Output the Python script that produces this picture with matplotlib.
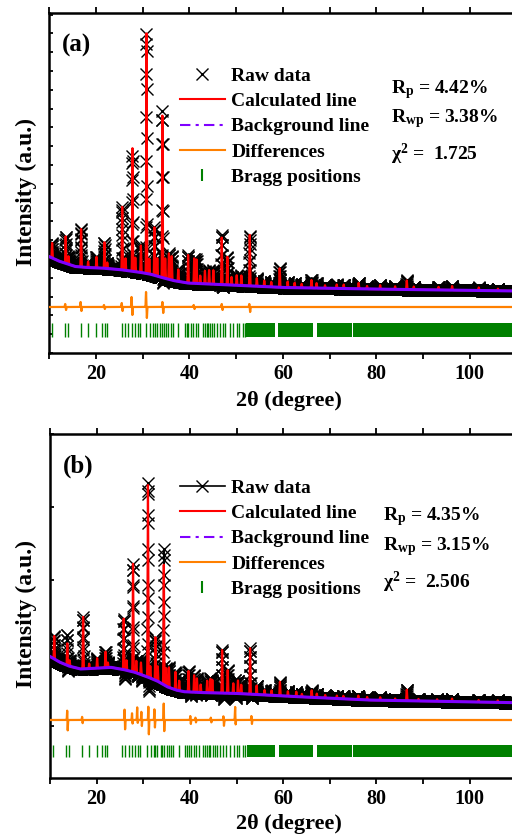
import numpy as np
import matplotlib
matplotlib.use('Agg')
import matplotlib.pyplot as plt
from matplotlib.lines import Line2D
from matplotlib.ticker import MultipleLocator, FixedLocator

plt.rcParams['font.family'] = ['Liberation Serif', 'DejaVu Serif']
plt.rcParams['font.weight'] = 'bold'
plt.rcParams['mathtext.fontset'] = 'custom'
plt.rcParams['mathtext.rm'] = 'Liberation Serif:bold'
plt.rcParams['mathtext.it'] = 'Liberation Serif:bold'
plt.rcParams['mathtext.bf'] = 'Liberation Serif:bold'

# ---------------- data ----------------
two_theta = np.arange(10.0, 120.0001, 0.02)

# sample (a): background anchors, reflections, residual spikes
bg_a_pos = [10, 12, 15.5, 18, 21, 25, 29, 31.5, 33.7, 36.5, 39.5, 44, 49, 60, 78, 95, 110, 120]
bg_a_int = [5123, 4894, 4602, 4549, 4522, 4442, 4309, 4203, 4043, 3857, 3724, 3671, 3618, 3485, 3405, 3352, 3298, 3272]

pk_a_pos = [10.6, 13.5, 14.1, 16.8, 18.3, 20.1, 21.8, 22.4, 25.6, 26.3, 27.8, 28.4, 29.6, 30.8, 31.4,
            32.5, 33.1, 34.2, 34.8, 35.6, 36.2, 37.6, 39.7, 41.0, 41.5, 42.3, 43.3, 44.2, 45.1, 46.9,
            48.1, 49.0, 50.1, 51.1, 52.9, 54.4, 56.0, 57.5, 59.3, 61.0, 62.5, 64.0, 66.1, 67.2, 69.0,
            71.5, 73.0, 76.2, 78.0, 80.8, 84.0, 86.5, 88.0, 93.3, 96.2, 101.9, 106.0]
pk_a_amp = [798, 1436, 426, 2022, 319, 585, 1383, 319, 3352, 638, 6544, 745, 1436, 12768, 798,
            2554, 958, 8618, 1064, 1383, 1277, 638, 1490, 1330, 1277, 426, 692, 745, 745, 2500,
            1490, 426, 532, 532, 2713, 426, 319, 266, 1011, 319, 266, 213, 426, 266, 160,
            213, 213, 319, 160, 213, 160, 479, 160, 160, 213, 160, 106]

diff_a_base = 2447
diff_a_pos = [13.5, 16.8, 21.8, 25.6, 27.7, 30.8, 34.3, 41.0, 47.0, 52.9]
diff_a_up = [160, 266, 106, 213, 532, 798, 266, 106, 160, 160]
diff_a_dn = [160, 213, 106, 213, 426, 585, 319, 106, 160, 266]

# sample (b)
bg_b_pos = [10, 12, 14, 16.5, 19, 23, 25.5, 28, 30.8, 33, 35.1, 37, 38.7, 42, 49.4, 60, 78, 95, 110, 120]
bg_b_int = [3808, 3507, 3288, 3123, 3151, 3216, 3107, 2959, 2701, 2466, 2153, 1972, 1879, 1835, 1792,
            1644, 1424, 1342, 1276, 1249]

pk_b_pos = [10.9, 13.7, 14.2, 17.1, 18.4, 20.1, 21.9, 22.4, 25.8, 26.4, 27.8, 28.5, 29.5, 31.0, 31.5,
            32.6, 33.1, 34.4, 34.9, 35.5, 36.9, 37.7, 39.7, 40.9, 41.5, 42.3, 43.7, 44.4, 44.8, 46.9,
            48.1, 49.3, 50.3, 51.0, 52.9, 54.3, 56.0, 57.5, 59.3, 61.0, 62.8, 64.0, 66.1, 67.2, 69.0,
            71.5, 72.9, 76.1, 78.0, 80.8, 84.0, 86.5, 89.0, 93.0, 96.2, 101.9, 106.0]
pk_b_amp = [1260, 1206, 329, 2850, 274, 548, 877, 274, 2795, 548, 5918, 658, 658, 10522, 658,
            2356, 822, 6576, 986, 1096, 986, 548, 1151, 932, 767, 438, 658, 767, 712, 2356,
            1260, 548, 712, 493, 2521, 493, 274, 274, 767, 274, 274, 164, 384, 219, 164,
            164, 164, 219, 164, 164, 110, 603, 110, 110, 164, 110, 110]

diff_b_base = 328
diff_b_pos = [13.7, 16.9, 26.0, 27.6, 28.7, 29.6, 31.1, 32.4, 34.4, 40.1, 41.2, 44.5, 47.2, 49.7, 53.2]
diff_b_up = [658, 219, 712, 438, 767, 548, 932, 712, 1096, 274, 164, 164, 274, 822, 274]
diff_b_dn = [712, 219, 658, 274, 274, 438, 986, 548, 822, 274, 164, 164, 384, 384, 274]

# reflection positions (isolated ones and ranges where they merge)
bragg_pos = [10.6, 13.4, 14.1, 16.8, 18.3, 20.0, 21.2, 21.9, 22.3, 25.5, 26.1, 26.9, 27.6, 28.3,
             28.9, 29.4, 30.8, 31.6, 32.2, 32.6, 33.0, 33.7, 34.1, 34.5, 35.0, 35.5, 36.0, 36.4,
             37.6, 39.0, 39.4, 39.7, 40.3, 40.8, 41.3, 41.9, 42.9, 43.3, 43.7, 44.0, 44.4, 44.9,
             45.3, 45.8, 46.5, 47.2, 47.7, 48.7, 49.4, 50.1, 50.6, 51.4, 51.9]
bragg_from = [52.2, 59.0, 67.2, 75.0]
bragg_to = [58.3, 66.5, 74.7, 120.0]

x_ticks = [20, 40, 60, 80, 100]
legend_labels = ['Raw data', 'Calculated line', 'Background line', 'Differences', 'Bragg positions']
stats_a = ['R$_{p}$ = 4.42%', 'R$_{wp}$ = 3.38%', '\u03c7$^{2}$ =  1.725']
stats_b = ['R$_{p}$ = 4.35%', 'R$_{wp}$ = 3.15%', '\u03c7$^{2}$ =  2.506']


def peaks(tt, pos, amp, sigma=0.06):
    out = np.zeros_like(tt)
    for p, a in zip(pos, amp):
        out += a * np.exp(-0.5 * ((tt - p) / sigma) ** 2)
    return out


def draw_panel(ax, tag, bg_pos, bg_int, pk_pos, pk_amp, d_base, d_pos, d_up, d_dn,
               bragg_y, stats, stats_xy, leg_xy, raw_line, ylim, ystep, shift):
    bg = np.interp(two_theta, bg_pos, bg_int)
    calc = bg + peaks(two_theta, pk_pos, pk_amp)
    resid = (peaks(two_theta, [p - shift for p in d_pos], d_up, 0.05)
             - peaks(two_theta, [p + 0.08 for p in d_pos], d_dn, 0.05))
    raw = calc + resid

    ax.plot(two_theta, raw, color='black', lw=1 if raw_line else 0, marker='x',
            ms=8, mew=1.0, zorder=2)
    ax.plot(two_theta, calc, color='#ff0000', lw=1.6, zorder=3)
    ax.plot(two_theta, bg, color='#7f00ff', lw=2.2, zorder=4)
    ax.plot(two_theta, d_base + resid, color='#ff8000', lw=1.6, zorder=3)

    y0, y1 = bragg_y
    ax.vlines(bragg_pos, y0, y1, color='#008000', lw=1.0)
    ax.broken_barh([(s, e - s) for s, e in zip(bragg_from, bragg_to)], (y0, y1 - y0),
                   facecolor='#008000', edgecolor='none')

    ax.set_xlim(10, 120)
    ax.set_ylim(*ylim)
    ax.xaxis.set_major_locator(FixedLocator(x_ticks))
    ax.xaxis.set_minor_locator(MultipleLocator(10))
    ax.yaxis.set_major_locator(MultipleLocator(ystep))
    ax.tick_params(axis='x', which='both', direction='out', top=True, length=4, width=1.3,
                   labelsize=14.5, pad=4)
    ax.tick_params(axis='y', which='both', direction='in', length=3, width=1.3, labelleft=False)
    for s in ax.spines.values():
        s.set_linewidth(1.8)
    for lab in ax.get_xticklabels():
        lab.set_fontweight('bold')

    ax.text(0.025, 0.905, tag, transform=ax.transAxes, fontsize=18, fontweight='bold',
            va='center', ha='left')

    raw_handle = Line2D([], [], color='black', marker='x', ms=9, mew=1.0,
                        ls='-' if raw_line else 'none', lw=1.2)
    handles = [raw_handle,
               Line2D([], [], color='#ff0000', lw=1.5),
               Line2D([], [], color='#7f00ff', lw=1.5, ls=(0, (5, 2.5, 1.5, 2.5))),
               Line2D([], [], color='#ff8000', lw=1.5),
               Line2D([], [], color='#008000', marker='|', ms=9, mew=1.5, ls='none')]
    ax.legend(handles, legend_labels, loc='upper left', bbox_to_anchor=leg_xy, frameon=False,
              prop={'family': 'Liberation Serif', 'weight': 'bold', 'size': 14},
              handlelength=2.3, handletextpad=0.35, labelspacing=0.39, borderpad=0,
              borderaxespad=0)

    sx, sys_ = stats_xy
    for txt, yy in zip(stats, sys_):
        ax.text(sx, yy, txt, transform=ax.transAxes, fontsize=14, fontweight='bold',
                ha='left', va='baseline')


fig = plt.figure(figsize=(5.12, 8.38), dpi=100)

ax_a = fig.add_axes([49.3 / 512, 1 - 353 / 838, 514 / 512, 340 / 838])
draw_panel(ax_a, '(a)', bg_a_pos, bg_a_int, pk_a_pos, pk_a_amp, diff_a_base, diff_a_pos,
           diff_a_up, diff_a_dn, (867, 1580), stats_a, (0.665, [0.764, 0.680, 0.568]),
           (0.254, 0.84), False, (0, 18085), 1000, 0.1)

ax_b = fig.add_axes([50 / 512, 1 - 778 / 838, 513 / 512, 344 / 838])
draw_panel(ax_b, '(b)', bg_b_pos, bg_b_int, pk_b_pos, pk_b_amp, diff_b_base, diff_b_pos,
           diff_b_up, diff_b_dn, (-1716, -1042), stats_b, (0.649, [0.750, 0.663, 0.551]),
           (0.253, 0.868), True, (-2850, 16000), 4000, 0.0)

for yc in (192, 614):
    fig.text(26 / 512, 1 - yc / 838, 'Intensity (a.u.)', rotation=90, fontsize=17,
             fontweight='bold', ha='center', va='center')
for yc in (401, 824):
    fig.text(289 / 512, 1 - yc / 838, '2\u03b8 (degree)', fontsize=16, fontweight='bold',
             ha='center', va='center')

fig.savefig('out.png', dpi=100)
